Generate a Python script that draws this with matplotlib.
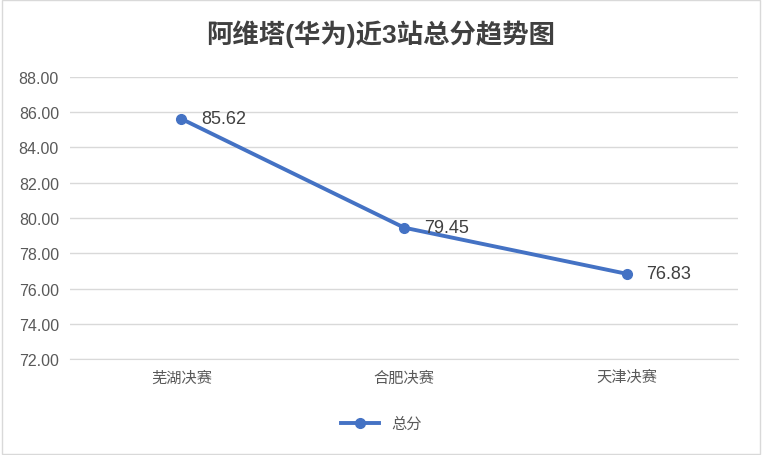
import matplotlib
matplotlib.use("Agg")
import matplotlib.pyplot as plt
from matplotlib.patches import Rectangle

plt.rcParams['font.family'] = ['Liberation Sans', 'Noto Sans CJK SC', 'DejaVu Sans']

categories = ["芜湖决赛", "合肥决赛", "天津决赛"]
values = [85.62, 79.45, 76.83]
yticks = [72, 74, 76, 78, 80, 82, 84, 86, 88]
title = "阿维塔(华为)近3站总分趋势图"
series_name = "总分"
color = "#4472C4"

fig = plt.figure(figsize=(7.62, 4.56), dpi=100)
ax = fig.add_axes([0.092, 0.2105, 0.877, 0.6185])
x = list(range(len(categories)))
ax.plot(x, values, color=color, lw=2.8, marker='o', ms=7, label=series_name, zorder=3)
for xi, v in zip(x, values):
    ax.annotate(f"{v:.2f}", (xi, v), xytext=(14, 0), textcoords='offset points',
                va='center', ha='left', fontsize=13, color='#404040')
ax.set_xlim(-0.5, len(categories) - 0.5)
ax.set_ylim(72, 88)
ax.set_yticks(yticks)
ax.set_yticklabels([f"{t:.2f}" for t in yticks], fontsize=11.5, color='#595959')
ax.set_xticks(x)
ax.set_xticklabels(categories, fontsize=11, color='#595959')
ax.tick_params(length=0, pad=8)
ax.grid(axis='y', color='#D9D9D9', lw=1)
ax.set_axisbelow(True)
for s in ['top', 'right', 'left']:
    ax.spines[s].set_visible(False)
ax.spines['bottom'].set_color('#D9D9D9')
fig.text(0.5, 0.925, title, ha='center', va='center', fontsize=19, fontweight='bold', color='#404040')
fig.legend(loc='center', bbox_to_anchor=(0.5, 0.068), frameon=False, fontsize=11,
           labelcolor='#595959', handlelength=2.5)
fig.patches.append(Rectangle((0.002, 0.003), 0.996, 0.994, transform=fig.transFigure,
                             fill=False, edgecolor='#D9D9D9', lw=1))
fig.savefig("out.png", dpi=100)
